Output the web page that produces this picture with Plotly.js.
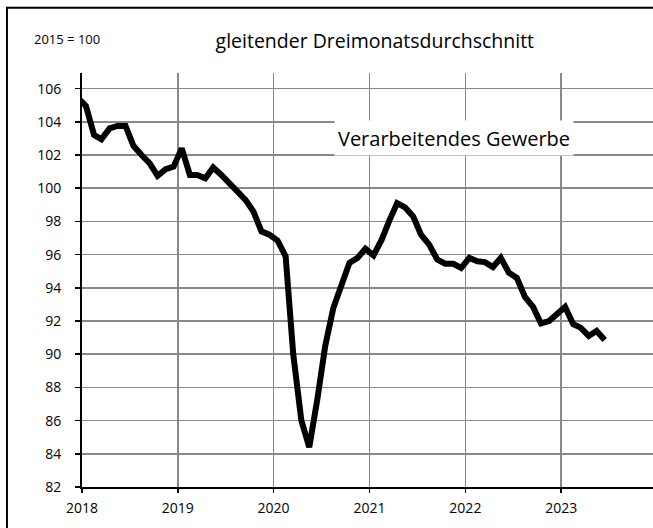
<!DOCTYPE html>
<html>
<head>
<meta charset="utf-8">
<script src="https://cdn.plot.ly/plotly-3.0.1.min.js"></script>
<style>
  html, body { margin: 0; padding: 0; background: #ffffff; }
  #chart { width: 653px; height: 528px; }
</style>
</head>
<body>
<div id="chart"></div>
<script>
// Months (plotted at mid-month); the first point (Dec 2017) is clipped by the axis
const months = [
  '2017-12',
  '2018-01','2018-02','2018-03','2018-04','2018-05','2018-06','2018-07','2018-08','2018-09','2018-10','2018-11','2018-12',
  '2019-01','2019-02','2019-03','2019-04','2019-05','2019-06','2019-07','2019-08','2019-09','2019-10','2019-11','2019-12',
  '2020-01','2020-02','2020-03','2020-04','2020-05','2020-06','2020-07','2020-08','2020-09','2020-10','2020-11','2020-12',
  '2021-01','2021-02','2021-03','2021-04','2021-05','2021-06','2021-07','2021-08','2021-09','2021-10','2021-11','2021-12',
  '2022-01','2022-02','2022-03','2022-04','2022-05','2022-06','2022-07','2022-08','2022-09','2022-10','2022-11','2022-12',
  '2023-01','2023-02','2023-03','2023-04','2023-05','2023-06'
];
// Verarbeitendes Gewerbe, 2015 = 100, gleitender Dreimonatsdurchschnitt
const gewerbe = [
  105.45,
  104.95, 103.2, 102.95, 103.6, 103.75, 103.75, 102.55, 102.0, 101.5, 100.75, 101.15, 101.3,
  102.4, 100.8, 100.8, 100.6, 101.25, 100.8, 100.3, 99.85, 99.3, 98.6, 97.4, 97.2,
  96.85, 95.9, 90.0, 86.0, 84.4, 87.3, 90.5, 92.8, 94.2, 95.5, 95.8, 96.35,
  95.95, 96.9, 98.0, 99.1, 98.85, 98.3, 97.2, 96.6, 95.7, 95.45, 95.45, 95.2,
  95.8, 95.6, 95.55, 95.25, 95.8, 94.9, 94.6, 93.45, 92.85, 91.85, 92.0, 92.45,
  92.85, 91.8, 91.6, 91.1, 91.4, 90.85
];
const yearTicks = ['2018-01-01','2019-01-01','2020-01-01','2021-01-01','2022-01-01','2023-01-01'];
const yearLabels = ['2018','2019','2020','2021','2022','2023'];
const titleText = 'gleitender Dreimonatsdurchschnitt';
const baseText = '2015 = 100';
const seriesName = 'Verarbeitendes Gewerbe';

const FONT = '"Open Sans", "Noto Sans", sans-serif';
const xDates = months.map(m => m + '-16');

const trace = {
  x: xDates,
  y: gewerbe,
  type: 'scatter',
  mode: 'lines',
  name: seriesName,
  line: { color: '#000000', width: 6, shape: 'linear' },
  hoverinfo: 'x+y'
};

const layout = {
  width: 653,
  height: 528,
  margin: { l: 82, r: 0, t: 73, b: 41, pad: 0 },
  paper_bgcolor: '#ffffff',
  plot_bgcolor: '#ffffff',
  showlegend: false,
  font: { family: FONT, color: '#000000', size: 14 },
  title: {
    text: titleText,
    font: { family: FONT, size: 19.5, color: '#000000' },
    x: 0.574, xanchor: 'center',
    y: 0.922, yanchor: 'middle',
    xref: 'container', yref: 'container'
  },
  xaxis: {
    type: 'date',
    range: ['2018-01-01', '2023-12-17'],
    tickmode: 'array',
    tickvals: yearTicks,
    ticktext: yearLabels,
    showgrid: true,
    gridcolor: '#888888',
    gridwidth: 1.6,
    showline: true,
    linecolor: '#000000',
    linewidth: 2,
    ticks: 'outside',
    ticklen: 4,
    tickwidth: 1.5,
    tickcolor: '#000000',
    ticklabelstandoff: 3,
    zeroline: false,
    tickfont: { family: FONT, size: 14, color: '#000000' },
    fixedrange: true
  },
  yaxis: {
    range: [82, 106.94],
    tick0: 82,
    dtick: 2,
    showgrid: true,
    gridcolor: '#888888',
    gridwidth: 1.6,
    showline: true,
    linecolor: '#000000',
    linewidth: 2,
    ticks: 'outside',
    ticklen: 5,
    tickwidth: 1.5,
    tickcolor: '#000000',
    ticklabelstandoff: 11,
    zeroline: false,
    tickfont: { family: FONT, size: 14, color: '#000000' },
    fixedrange: true
  },
  shapes: [
    {
      type: 'rect', xref: 'paper', yref: 'paper',
      x0: -0.1314, x1: 1.1, y0: -0.2, y1: 1.1577,
      line: { color: '#000000', width: 2 },
      fillcolor: 'rgba(0,0,0,0)',
      layer: 'above'
    }
  ],
  annotations: [
    {
      text: baseText,
      xref: 'paper', yref: 'paper',
      x: -0.087, xanchor: 'left',
      y: 1.082, yanchor: 'middle',
      showarrow: false,
      font: { family: FONT, size: 13, color: '#000000' }
    },
    {
      text: seriesName,
      xref: 'paper', yref: 'paper',
      x: 0.6515, xanchor: 'center',
      y: 0.8442, yanchor: 'middle',
      width: 238, height: 34,
      align: 'center', valign: 'middle',
      bgcolor: '#ffffff',
      borderpad: 0,
      showarrow: false,
      font: { family: FONT, size: 20, color: '#000000' }
    }
  ]
};

Plotly.newPlot('chart', [trace], layout, { displayModeBar: false, staticPlot: true });
</script>
</body>
</html>
